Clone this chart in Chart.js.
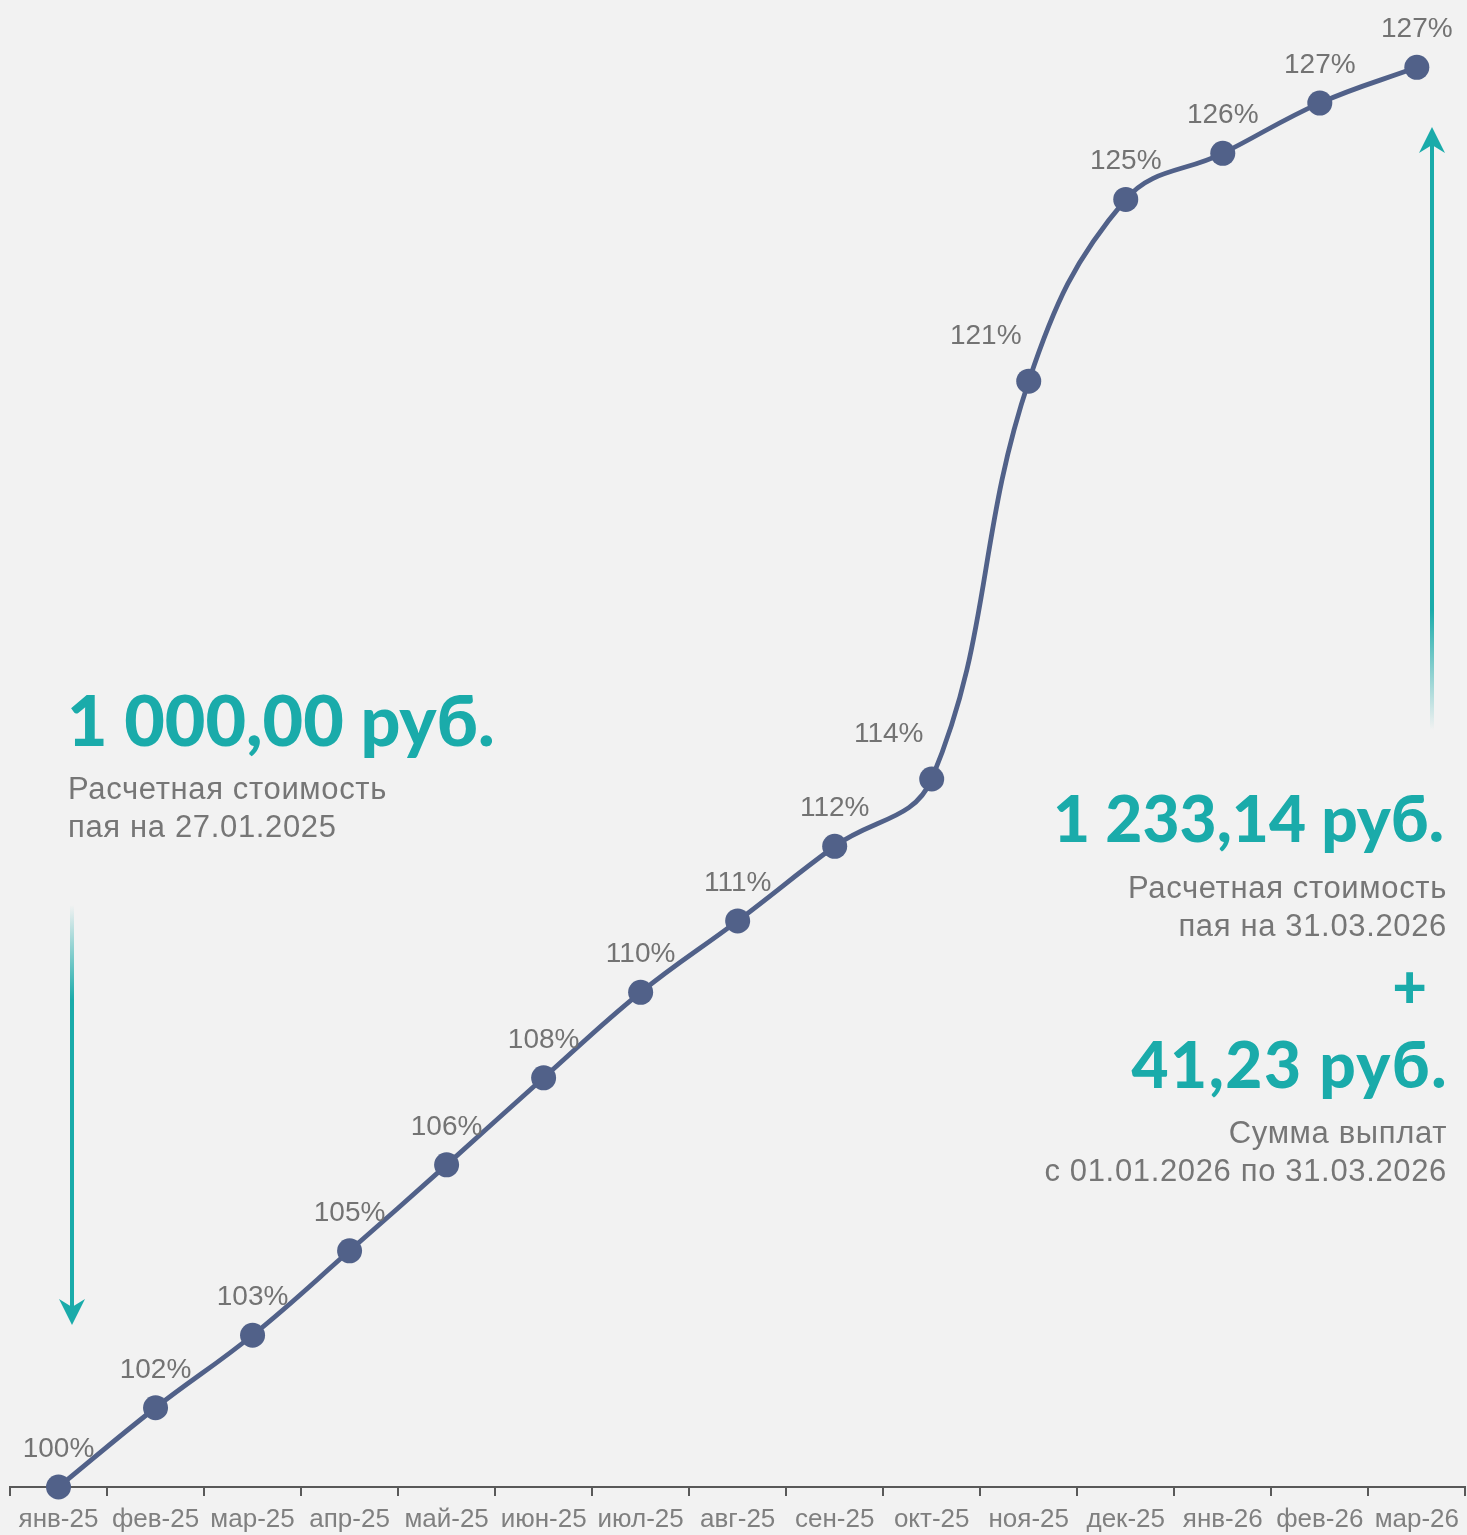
<!DOCTYPE html>
<html>
<head>
<meta charset="utf-8">
<script src="https://cdn.jsdelivr.net/npm/chart.js@4.4.1/dist/chart.umd.min.js"></script>
<style>
  html, body { margin: 0; padding: 0; background: #f2f2f2; }
  #wrap { position: relative; width: 1467px; height: 1535px; overflow: hidden; }
  #c { position: absolute; left: 0; top: 0; }
  .big { position: absolute; font-family: Lato, Inter, sans-serif; font-weight: 900; color: #1aabaa; white-space: nowrap; line-height: 1; }
  .sub { position: absolute; font-family: "Liberation Sans", Arial, sans-serif; font-size: 31px; letter-spacing: 0.65px; line-height: 38px; color: #767676; white-space: nowrap; }
  .r { text-align: right; right: 20px; }
</style>
</head>
<body>
<div id="wrap">
  <canvas id="c" width="1467" height="1535"></canvas>
  <div class="big" style="left:67px; top:684px; font-size:70px;">1 000,00 руб.</div>
  <div class="sub" style="left:68px; top:770px;">Расчетная стоимость<br>пая на 27.01.2025</div>

  <div class="big r" style="top:786px; font-size:64px; right:23px;">1 233,14 руб.</div>
  <div class="sub r" style="top:869px;">Расчетная стоимость<br>пая на 31.03.2026</div>
  <div class="big r" style="top:955px; font-size:60px; right:40px;">+</div>
  <div class="big r" style="top:1032px; font-size:64px; letter-spacing:1.5px; right:19px;">41,23 руб.</div>
  <div class="sub r" style="top:1114px;">Сумма выплат<br>с 01.01.2026 по 31.03.2026</div>
</div>
<script>
const categories = ['янв-25','фев-25','мар-25','апр-25','май-25','июн-25','июл-25','авг-25','сен-25','окт-25','ноя-25','дек-25','янв-26','фев-26','мар-26'];
const values = [100.0, 101.53, 102.93, 104.56, 106.22, 107.9, 109.55, 110.93, 112.37, 113.67, 121.35, 124.86, 125.75, 126.72, 127.41];
const yMin = 100;
const yMax = 128.71;

const LINE = '#516189';
const TEAL = '#1aabaa';

const labelPlugin = {
  id: 'pctLabels',
  afterDatasetsDraw(chart) {
    const ctx = chart.ctx;
    const meta = chart.getDatasetMeta(0);
    ctx.save();
    ctx.font = '28px "Liberation Sans", Arial, sans-serif';
    ctx.fillStyle = '#737373';
    ctx.textAlign = 'center';
    ctx.textBaseline = 'alphabetic';
    meta.data.forEach((pt, i) => {
      const v = values[i];
      const prev = i > 0 ? v - values[i - 1] : 0;
      const next = i < values.length - 1 ? values[i + 1] - v : 0;
      const steep = prev > 5 || next > 5;
      const dx = steep ? -43 : 0;
      const dy = steep ? -37 : -30;
      ctx.fillText(Math.round(v) + '%', pt.x + dx, pt.y + dy);
    });
    ctx.restore();
  }
};

function arrow(ctx, x, yTail, yTip, fadeEnd) {
  const dir = yTip > yTail ? 1 : -1;
  const headLen = 26, headHalf = 13, notch = 8;
  const g = ctx.createLinearGradient(0, yTail, 0, fadeEnd);
  g.addColorStop(0, 'rgba(26,171,170,0)');
  g.addColorStop(1, 'rgba(26,171,170,1)');
  ctx.save();
  ctx.strokeStyle = g;
  ctx.lineWidth = 4;
  ctx.beginPath();
  ctx.moveTo(x, yTail);
  ctx.lineTo(x, yTip - dir * (headLen - notch));
  ctx.stroke();
  ctx.fillStyle = TEAL;
  ctx.beginPath();
  ctx.moveTo(x, yTip);
  ctx.lineTo(x - headHalf, yTip - dir * headLen);
  ctx.lineTo(x, yTip - dir * (headLen - notch));
  ctx.lineTo(x + headHalf, yTip - dir * headLen);
  ctx.closePath();
  ctx.fill();
  ctx.restore();
}

const arrowPlugin = {
  id: 'arrows',
  afterDraw(chart) {
    const ctx = chart.ctx;
    arrow(ctx, 72, 905, 1325, 1000);
    arrow(ctx, 1432, 730, 127, 610);
  }
};

const bgPlugin = {
  id: 'bg',
  beforeDraw(chart) {
    const ctx = chart.ctx;
    ctx.save();
    ctx.fillStyle = '#f2f2f2';
    ctx.fillRect(0, 0, chart.width, chart.height);
    ctx.restore();
  }
};

new Chart(document.getElementById('c'), {
  type: 'line',
  data: {
    labels: categories,
    datasets: [{
      data: values,
      borderColor: LINE,
      backgroundColor: LINE,
      borderWidth: 4.8,
      pointRadius: 12.5,
      pointHoverRadius: 12.5,
      pointBackgroundColor: LINE,
      pointBorderWidth: 0,
      tension: 0.4,
      clip: false
    }]
  },
  options: {
    responsive: false,
    animation: false,
    events: [],
    layout: { autoPadding: false, padding: { left: 10, right: 0, top: 0, bottom: 0 } },
    plugins: { legend: { display: false }, tooltip: { enabled: false } },
    scales: {
      y: { display: false, min: yMin, max: yMax },
      x: {
        offset: true,
        afterFit(scale) { scale.height = 48; },
        border: { display: true, color: '#595959', width: 2 },
        grid: { offset: true, drawOnChartArea: false, drawTicks: true, tickLength: 9, color: '#595959', lineWidth: 2 },
        ticks: {
          color: '#808080',
          font: { family: '"Liberation Sans", Arial, sans-serif', size: 26 },
          padding: 8,
          maxRotation: 0,
          autoSkip: false
        }
      }
    }
  },
  plugins: [bgPlugin, labelPlugin, arrowPlugin]
});
</script>
</body>
</html>
